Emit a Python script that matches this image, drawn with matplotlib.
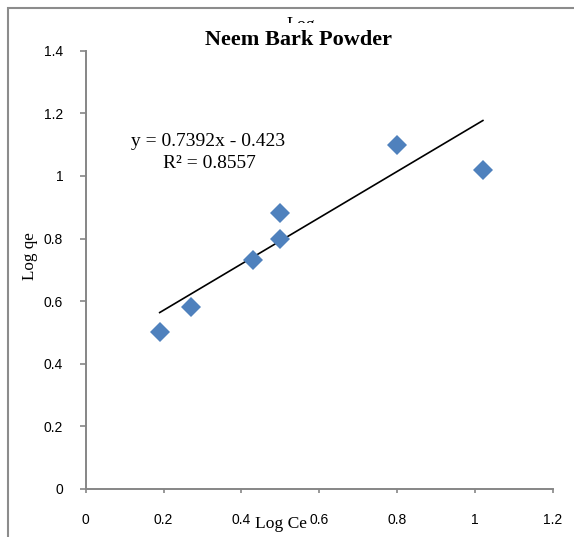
import matplotlib
matplotlib.use("Agg")
import matplotlib.pyplot as plt
from matplotlib.patches import Rectangle
import numpy as np

# Freundlich isotherm data for neem bark powder
log_ce = [0.19, 0.27, 0.43, 0.50, 0.50, 0.80, 1.02]
log_qe = [0.50, 0.58, 0.73, 0.80, 0.88, 1.10, 1.02]

slope = 0.7392
intercept = 0.423
eq_label = "y = 0.7392x - 0.423"
r2_label = "R\u00b2 = 0.8557"

x_ticks = [0, 0.2, 0.4, 0.6, 0.8, 1, 1.2]
x_tick_labels = ["0", "0.2", "0.4", "0.6", "0.8", "1", "1.2"]
y_ticks = [0, 0.2, 0.4, 0.6, 0.8, 1, 1.2, 1.4]
y_tick_labels = ["0", "0.2", "0.4", "0.6", "0.8", "1", "1.2", "1.4"]

W, H = 574, 537
serif = "Liberation Serif"
sans = "Liberation Sans"
grey = "#868686"


def fx(x):
    return x / W


def fy(y):
    return 1 - y / H


fig = plt.figure(figsize=(W / 100, H / 100), dpi=100)

# chart frame (cut off on the right and bottom)
fig.add_artist(Rectangle((fx(7.7), -0.1), 1.2, fy(7.7) + 0.1,
                         transform=fig.transFigure, fill=False,
                         edgecolor="#8c8c8c", linewidth=1.5))

ax = fig.add_axes([fx(85.7), fy(488.9), (553 - 85.7) / W, 438.2 / H])
ax.set_xlim(0, 1.2)
ax.set_ylim(0, 1.4)

ax.plot(log_ce, log_qe, linestyle="none", marker="D", markersize=9.8,
        color="#4f81bd", markeredgewidth=0, zorder=3)

xs = np.array([min(log_ce), max(log_ce)])
ax.plot(xs, slope * xs + intercept, color="black", linewidth=1.2, zorder=2)

for side in ["top", "right"]:
    ax.spines[side].set_visible(False)
for side in ["left", "bottom"]:
    ax.spines[side].set_color(grey)
    ax.spines[side].set_linewidth(1.4)

ax.set_xticks(x_ticks)
ax.set_xticklabels(x_tick_labels, fontfamily=sans, fontsize=10)
ax.set_yticks(y_ticks)
ax.set_yticklabels(y_tick_labels, fontfamily=sans, fontsize=10)
ax.tick_params(axis="x", direction="out", length=2.9, width=1.2,
               color=grey, pad=14.4)
ax.tick_params(axis="y", direction="out", length=4.2, width=1.2,
               color=grey, pad=12)

ax.text(fx(208), fy(141), eq_label, transform=fig.transFigure,
        ha="center", va="center", fontfamily=serif, fontsize=14)
ax.text(fx(209), fy(163), r2_label, transform=fig.transFigure,
        ha="center", va="center", fontfamily=serif, fontsize=14)

# axis titles
fig.text(fx(29.5), fy(256), "Log qe", rotation=90, ha="center", va="center",
         fontfamily=serif, fontsize=12.3)
fig.text(fx(281), fy(528), "Log Ce", ha="center", va="baseline",
         fontfamily=serif, fontsize=12.6)

# leftover axis title hidden under the chart title
fig.text(fx(287), fy(30.5), "Log", ha="left", va="baseline",
         fontfamily=serif, fontsize=13, zorder=3)
fig.add_artist(Rectangle((fx(270), fy(40)), fx(60), (40 - 22.5) / H,
                         transform=fig.transFigure, facecolor="white",
                         edgecolor="none", zorder=4))
fig.text(fx(298.5), fy(45), "Neem Bark Powder", ha="center", va="baseline",
         fontfamily=serif, fontsize=16, fontweight="bold", zorder=5)

fig.savefig("out.png", dpi=100)
